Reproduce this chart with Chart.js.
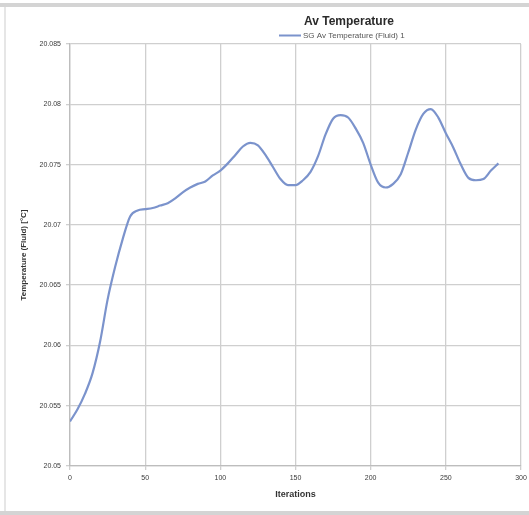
<!DOCTYPE html>
<html>
<head>
<meta charset="utf-8">
<script src="https://cdn.jsdelivr.net/npm/chart.js@4.4.1/dist/chart.umd.min.js"></script>
<style>
  html, body { margin: 0; padding: 0; background: #ffffff; }
  #wrap { width: 529px; height: 515px; position: relative; }
  canvas { filter: blur(0.55px); }
</style>
</head>
<body>
<div id="wrap"><canvas id="c" width="529" height="515"></canvas></div>
<script>
// Solver monitor: average fluid temperature against iteration count
const iterations = [0, 5, 10, 15, 20, 25, 30, 35, 40, 45, 50, 55, 60, 65, 70, 75, 80, 85, 90, 95,
  100, 105, 110, 115, 120, 125, 130, 135, 140, 145, 150, 155, 160, 165, 170, 175, 180, 185, 190, 195,
  200, 205, 210, 215, 220, 225, 230, 235, 240, 245, 250, 255, 260, 265, 270, 275, 280, 285];
const avTemperature = [20.0537, 20.0547, 20.0560, 20.0577, 20.0603, 20.0638, 20.0665, 20.0688, 20.0707, 20.0712,
  20.0713, 20.0714, 20.0716, 20.0718, 20.0722, 20.0727, 20.0731, 20.0734, 20.0736, 20.0741,
  20.0745, 20.0751, 20.0758, 20.0765, 20.0768, 20.0766, 20.0758, 20.0748, 20.0738, 20.0733,
  20.0733, 20.0737, 20.0744, 20.0757, 20.0775, 20.0788, 20.0791, 20.0789, 20.0780, 20.0768,
  20.0750, 20.0735, 20.0731, 20.0734, 20.0742, 20.0760, 20.0779, 20.0792, 20.0796, 20.0789,
  20.0776, 20.0764, 20.0750, 20.0739, 20.0737, 20.0738, 20.0745, 20.0751];
const xTicks = [0, 50, 100, 150, 200, 250, 300];
const yTicks = [20.05, 20.055, 20.06, 20.065, 20.07, 20.075, 20.08, 20.085];
const yTickLabels = ['20.05', '20.055', '20.06', '20.065', '20.07', '20.075', '20.08', '20.085'];

const chartTitle = 'Av Temperature';
const seriesName = 'SG Av Temperature (Fluid) 1';
const xTitle = 'Iterations';
const yTitle = 'Temperature (Fluid) [°C]';

const lineColor = '#7b93cc';
const gridColor = '#cfcfcf';
const textColor = '#3a3a3a';

// Frame, heading and key drawn around the plot
const framePlugin = {
  id: 'frame',
  beforeDraw(chart) {
    const ctx = chart.ctx;
    ctx.save();
    ctx.fillStyle = '#ffffff';
    ctx.fillRect(0, 0, chart.width, chart.height);
    ctx.fillStyle = '#d4d4d4';
    ctx.fillRect(0, 3, chart.width, 4);
    ctx.fillRect(0, 511, chart.width, 4);
    ctx.fillStyle = '#e6e6e6';
    ctx.fillRect(4, 7, 2, 504);
    ctx.restore();
  },
  afterDraw(chart) {
    const ctx = chart.ctx;
    ctx.save();
    ctx.fillStyle = '#2a2a2a';
    ctx.font = 'bold 12px "Liberation Sans", Arial, sans-serif';
    ctx.textAlign = 'center';
    ctx.textBaseline = 'middle';
    ctx.fillText(chartTitle, 349, 22);
    ctx.strokeStyle = lineColor;
    ctx.lineWidth = 2;
    ctx.beginPath();
    ctx.moveTo(279, 35.5);
    ctx.lineTo(301, 35.5);
    ctx.stroke();
    ctx.fillStyle = '#555555';
    ctx.font = '8px "Liberation Sans", Arial, sans-serif';
    ctx.textAlign = 'left';
    ctx.fillText(seriesName, 303, 35.5);
    ctx.restore();
  }
};

new Chart(document.getElementById('c'), {
  type: 'line',
  data: {
    datasets: [{
      label: seriesName,
      data: iterations.map((it, i) => ({ x: it, y: avTemperature[i] })),
      borderColor: lineColor,
      borderWidth: 2.2,
      pointRadius: 0,
      cubicInterpolationMode: 'monotone',
      fill: false
    }]
  },
  options: {
    responsive: false,
    animation: false,
    devicePixelRatio: 1,
    layout: { padding: { left: 8, right: 8, top: 44, bottom: 7 } },
    plugins: { legend: { display: false }, title: { display: false }, tooltip: { enabled: false } },
    scales: {
      x: {
        type: 'linear',
        min: 0, max: 300,
        afterBuildTicks(scale) { scale.ticks = xTicks.map(v => ({ value: v })); },
        afterFit(scale) { scale.height = 42; scale.paddingRight = 0; scale.paddingLeft = 0; },
        ticks: {
          color: textColor,
          font: { size: 7, family: '"Liberation Sans", Arial, sans-serif' },
          padding: 4,
          maxRotation: 0,
          callback: v => String(v)
        },
        grid: { color: gridColor, lineWidth: 1.3, tickLength: 4, tickColor: gridColor },
        border: { color: '#bdbdbd', width: 1.3 },
        title: {
          display: true, text: xTitle, color: '#333333',
          font: { size: 9, weight: 'bold', family: '"Liberation Sans", Arial, sans-serif' },
          padding: { top: 0, bottom: 8 }
        }
      },
      y: {
        type: 'linear',
        min: 20.05, max: 20.085,
        afterBuildTicks(scale) { scale.ticks = yTicks.map(v => ({ value: v })); },
        afterFit(scale) { scale.width = 62; },
        ticks: {
          color: textColor,
          font: { size: 7, family: '"Liberation Sans", Arial, sans-serif' },
          padding: 5,
          callback: v => {
            const i = yTicks.findIndex(t => Math.abs(t - v) < 1e-9);
            return i >= 0 ? yTickLabels[i] : '';
          }
        },
        grid: { color: gridColor, lineWidth: 1.3, tickLength: 4, tickColor: gridColor },
        border: { color: '#bdbdbd', width: 1.3 },
        title: {
          display: true, text: yTitle, color: '#333333',
          font: { size: 8, weight: 'bold', family: '"Liberation Sans", Arial, sans-serif' },
          padding: { top: 11, bottom: 4 }
        }
      }
    }
  },
  plugins: [framePlugin]
});
</script>
</body>
</html>
